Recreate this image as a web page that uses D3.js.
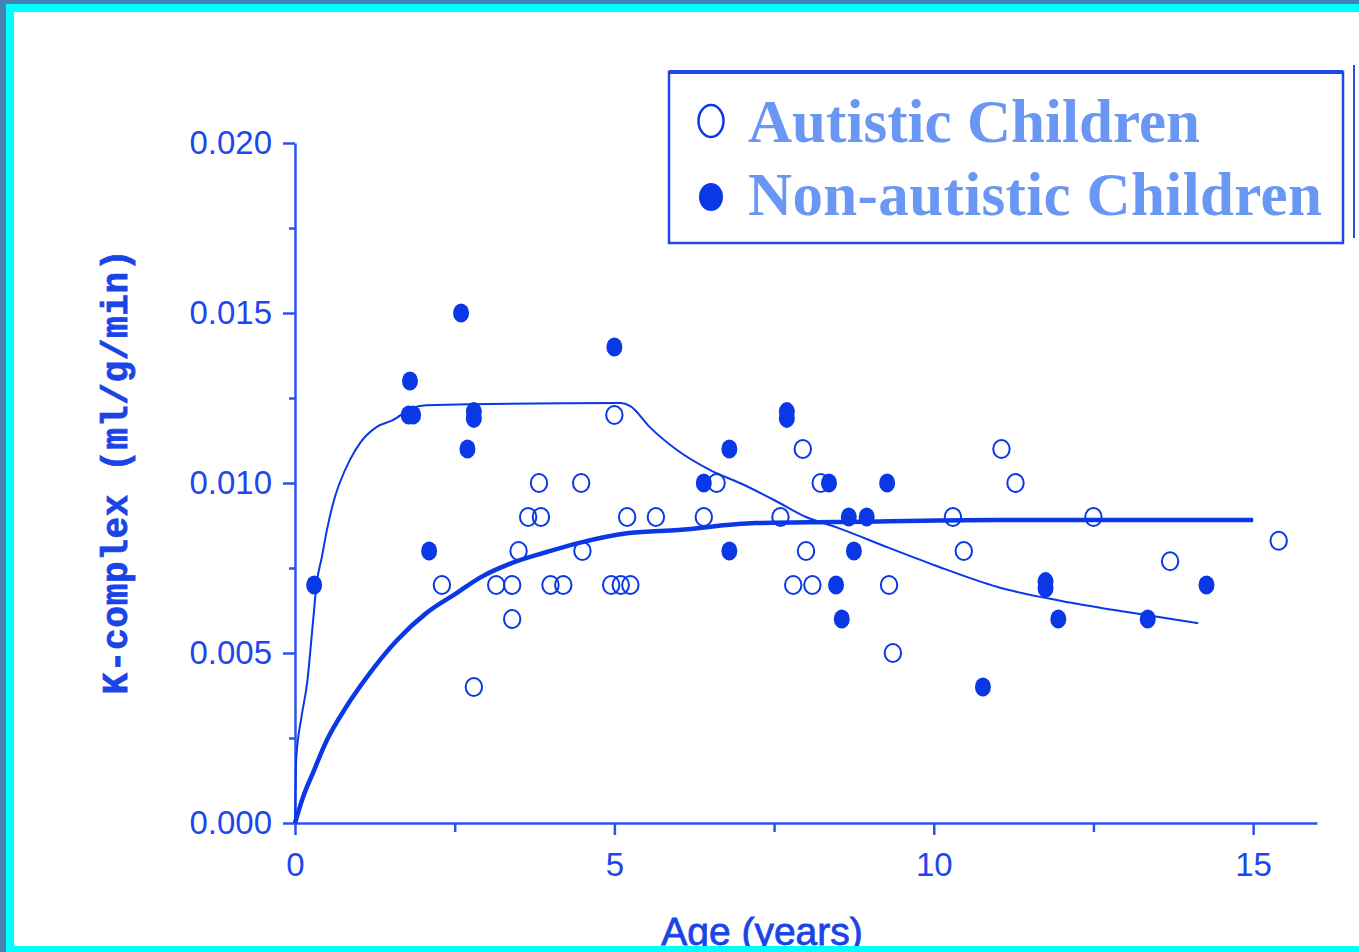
<!DOCTYPE html>
<html>
<head>
<meta charset="utf-8">
<script src="https://cdn.jsdelivr.net/npm/d3@7"></script>
<style>
  html, body { margin: 0; padding: 0; background: #4682b4; }
  svg { display: block; }
</style>
</head>
<body>
<svg id="chart" width="1359" height="952"></svg>
<script>
// tick values
const ageTicks = [0, 5, 10, 15];
const ageMinorTicks = [2.5, 7.5, 12.5];
const kTicks = [0, 0.005, 0.010, 0.015, 0.020];
const kMinorTicks = [0.0025, 0.0075, 0.0125, 0.0175];

// open circles: [age, K-complex]
const autisticPoints = [
    [2.3, 0.007], [2.8, 0.004], [3.15, 0.007], [3.4, 0.007], [3.4, 0.006],
    [3.5, 0.008], [3.65, 0.009], [3.85, 0.009], [3.82, 0.010], [4.0, 0.007],
    [4.2, 0.007], [4.48, 0.010], [4.5, 0.008], [4.95, 0.007], [5.1, 0.007],
    [5.25, 0.007], [5.0, 0.012], [5.2, 0.009], [5.65, 0.009], [6.4, 0.009],
    [6.6, 0.010], [7.6, 0.009], [7.8, 0.007], [7.95, 0.011], [8.0, 0.008],
    [8.1, 0.007], [8.23, 0.010], [9.3, 0.007], [9.36, 0.005], [10.3, 0.009],
    [10.47, 0.008], [11.06, 0.011], [11.28, 0.010], [12.5, 0.009],
    [13.7, 0.0077], [15.4, 0.0083]
];

// filled circles: [age, K-complex]
const nonAutisticPoints = [
    [0.3, 0.007], [1.8, 0.013], [1.78, 0.012], [1.85, 0.012], [2.1, 0.008],
    [2.6, 0.015], [2.7, 0.011], [2.8, 0.0121], [2.8, 0.0119], [5.0, 0.014],
    [6.4, 0.010], [6.8, 0.011], [6.8, 0.008], [7.7, 0.0121], [7.7, 0.0119],
    [8.36, 0.010], [8.67, 0.009], [8.56, 0.006], [8.47, 0.007], [8.95, 0.009],
    [8.75, 0.008], [9.27, 0.010], [10.77, 0.004], [11.75, 0.0071],
    [11.75, 0.0069], [11.95, 0.006], [13.35, 0.006], [14.27, 0.007]
];

// fitted curves
const nonAutisticFit = [
    [0, 0], [0.02, 0.0019], [0.1, 0.0031], [0.19, 0.00412], [0.28, 0.00588],
    [0.34, 0.00706], [0.42, 0.00782], [0.5, 0.00862], [0.625, 0.00959],
    [0.7, 0.0100], [0.86, 0.01068], [1.02, 0.01118], [1.28, 0.01165],
    [1.53, 0.01185], [1.84, 0.01221], [2.06, 0.01229], [5.1, 0.01235],
    [5.25, 0.01226], [5.55, 0.01165], [5.98, 0.01097], [6.5, 0.01038],
    [7.0, 0.00997], [7.5, 0.0095], [8.0, 0.0090], [8.5, 0.00868],
    [9.3, 0.00809], [10, 0.00759], [11, 0.00694], [12, 0.00653],
    [13, 0.00621], [14.14, 0.00588]
];

const autisticFit = [
    [0, 0], [0.125, 0.00076], [0.28, 0.00147], [0.5, 0.00244], [0.8, 0.00341],
    [1.125, 0.00429], [1.6, 0.00538], [2.06, 0.00618], [2.53, 0.00676],
    [2.89, 0.00721], [3.4, 0.00765], [3.94, 0.00797], [4.45, 0.00824],
    [5.23, 0.00853], [6.0, 0.00862], [7.2, 0.00882], [8.45, 0.00885],
    [11, 0.00891], [15, 0.00891]
];

const legendLabels = ['Autistic Children', 'Non-autistic Children'];

const ink = '#0b38e6';
const axisInk = '#2a52f0';

const svg = d3.select('#chart');

// frame: cyan border round a white page
svg.append('rect').attr('x', 6).attr('y', 4).attr('width', 1359).attr('height', 952).attr('fill', '#00ffff');
svg.append('rect').attr('x', 14).attr('y', 12).attr('width', 1359).attr('height', 934).attr('fill', '#ffffff');

const x = d3.scaleLinear().domain([0, 16]).range([295, 1317]);
const y = d3.scaleLinear().domain([0, 0.02]).range([823, 143]);

const tickFont = g => g.selectAll('text')
    .attr('font-family', '"Liberation Sans", Arial, sans-serif')
    .attr('font-size', 33)
    .attr('fill', '#1f46ee');

// y axis
const yAxis = svg.append('g').attr('transform', `translate(${x(0)},0)`)
    .call(d3.axisLeft(y).tickValues(kTicks).tickSize(12).tickSizeOuter(0)
        .tickPadding(11).tickFormat(d3.format('.3f')));
yAxis.call(tickFont);

svg.append('g').attr('transform', `translate(${x(0)},0)`)
    .call(d3.axisLeft(y).tickValues(kMinorTicks).tickSize(6).tickFormat(''))
    .select('.domain').remove();

// x axis
const xAxis = svg.append('g').attr('transform', `translate(0,${y(0)})`)
    .call(d3.axisBottom(x).tickValues(ageTicks).tickSize(12).tickSizeOuter(0)
        .tickPadding(18).tickFormat(d3.format('d')));
xAxis.call(tickFont);

svg.append('g').attr('transform', `translate(0,${y(0)})`)
    .call(d3.axisBottom(x).tickValues(ageMinorTicks).tickSize(9).tickFormat(''))
    .select('.domain').remove();

svg.selectAll('.domain, .tick line')
    .attr('stroke', axisInk)
    .attr('stroke-width', 2.5);

// fitted curves
const line = d3.line()
    .x(d => x(d[0]))
    .y(d => y(d[1]))
    .curve(d3.curveMonotoneX);

svg.append('path').datum(nonAutisticFit)
    .attr('d', line)
    .attr('fill', 'none')
    .attr('stroke', ink)
    .attr('stroke-width', 2);

svg.append('path').datum(autisticFit)
    .attr('d', line)
    .attr('fill', 'none')
    .attr('stroke', ink)
    .attr('stroke-width', 4.5);

// points
svg.append('g').selectAll('ellipse').data(autisticPoints).join('ellipse')
    .attr('cx', d => x(d[0]))
    .attr('cy', d => y(d[1]))
    .attr('rx', 8.2)
    .attr('ry', 9)
    .attr('fill', 'none')
    .attr('stroke', ink)
    .attr('stroke-width', 2);

svg.append('g').selectAll('ellipse').data(nonAutisticPoints).join('ellipse')
    .attr('cx', d => x(d[0]))
    .attr('cy', d => y(d[1]))
    .attr('rx', 8)
    .attr('ry', 9.5)
    .attr('fill', ink);

// axis titles
svg.append('text')
    .attr('transform', 'translate(127,472) rotate(-90)')
    .attr('text-anchor', 'middle')
    .attr('font-family', '"Liberation Mono", "DejaVu Sans Mono", monospace')
    .attr('font-weight', 'bold')
    .attr('font-size', 36)
    .attr('textLength', 445)
    .attr('lengthAdjust', 'spacing')
    .attr('fill', '#1a44e6')
    .attr('stroke', '#1a44e6')
    .attr('stroke-width', 0.8)
    .text('K-complex (ml/g/min)');

svg.append('text')
    .attr('x', 762)
    .attr('y', 945)
    .attr('text-anchor', 'middle')
    .attr('font-family', '"Liberation Sans", Arial, sans-serif')
    .attr('font-size', 39)
    .attr('fill', '#1a44e6')
    .attr('stroke', '#1a44e6')
    .attr('stroke-width', 0.8)
    .text('Age (years)');

// legend
const legend = svg.append('g');
legend.append('rect')
    .attr('x', 669).attr('y', 72).attr('width', 674).attr('height', 171)
    .attr('fill', 'none').attr('stroke', '#2346e8').attr('stroke-width', 2.5);
legend.append('line')
    .attr('x1', 669).attr('x2', 1343).attr('y1', 72).attr('y2', 72)
    .attr('stroke', '#2346e8').attr('stroke-width', 4);
legend.append('line')
    .attr('x1', 1354).attr('x2', 1354).attr('y1', 65).attr('y2', 238)
    .attr('stroke', '#2d4fd8').attr('stroke-width', 2);

legend.append('ellipse')
    .attr('cx', 711).attr('cy', 121).attr('rx', 12.5).attr('ry', 16)
    .attr('fill', 'none').attr('stroke', ink).attr('stroke-width', 2.5);
legend.append('ellipse')
    .attr('cx', 711).attr('cy', 197).attr('rx', 12).attr('ry', 14)
    .attr('fill', ink);

const legendWidths = [452, 574];
legend.selectAll('text').data(legendLabels).join('text')
    .attr('x', 748)
    .attr('y', (d, i) => 142 + i * 73)
    .attr('font-family', '"Liberation Serif", "Times New Roman", serif')
    .attr('font-weight', 'bold')
    .attr('font-size', 61)
    .attr('textLength', (d, i) => legendWidths[i])
    .attr('lengthAdjust', 'spacing')
    .attr('fill', '#6a97f3')
    .text(d => d);

// bottom cyan strip drawn last, it clips the axis title
svg.append('rect').attr('x', 6).attr('y', 946).attr('width', 1359).attr('height', 10).attr('fill', '#00ffff');
</script>
</body>
</html>
